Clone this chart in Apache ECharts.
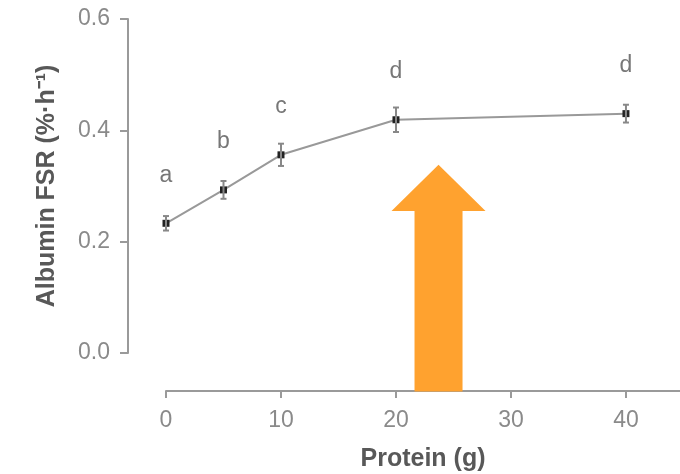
<!DOCTYPE html>
<html>
<head>
<meta charset="utf-8">
<script src="https://cdn.jsdelivr.net/npm/echarts@6/dist/echarts.min.js"></script>
<style>html,body{margin:0;padding:0;background:#fff}#c{width:680px;height:474px}</style>
</head>
<body>
<div id="c"></div>
<script>
// Data
var protein = [0, 5, 10, 20, 40];
var fsr = [0.233, 0.293, 0.356, 0.419, 0.430];
var fsrErr = [0.013, 0.016, 0.020, 0.022, 0.016];
var letters = ['a', 'b', 'c', 'd', 'd'];
var xTicks = [0, 10, 20, 30, 40];
var yTicks = [0, 0.2, 0.4, 0.6];
// annotation arrow (in data units)
var arrowX = 23.7, arrowTip = 0.338, arrowHeadBase = 0.255, arrowBottom = -0.069;

var FONT = 'Liberation Sans, Arial, sans-serif';
var chart = echarts.init(document.getElementById('c'), null, {renderer: 'canvas'});

var pts = protein.map(function (x, i) { return [x, fsr[i]]; });
var errData = protein.map(function (x, i) { return [x, fsr[i] - fsrErr[i], fsr[i] + fsrErr[i]]; });

chart.setOption({
  animation: false,
  backgroundColor: '#fff',
  grid: {left: 166, right: 0, top: 19, bottom: 121, containLabel: false, outerBoundsMode: 'none'},
  xAxis: {
    type: 'value', min: 0, max: 44.7, interval: 10, offset: 38,
    axisLine: {show: true, onZero: false, lineStyle: {color: '#9a9a9a', width: 2}},
    axisTick: {show: true, length: 7, lineStyle: {color: '#9a9a9a', width: 2}, customValues: xTicks},
    axisLabel: {fontFamily: FONT, fontSize: 23, color: '#8a8a8a', margin: 18, customValues: xTicks},
    splitLine: {show: false},
    name: 'Protein (g)', nameLocation: 'middle', nameGap: 56,
    nameTextStyle: {fontFamily: FONT, fontSize: 25, fontWeight: 'bold', color: '#585858'}
  },
  yAxis: {
    type: 'value', min: 0, max: 0.6, interval: 0.2, offset: 38,
    axisLine: {show: true, onZero: false, lineStyle: {color: '#9a9a9a', width: 2}},
    axisTick: {show: true, length: 8, lineStyle: {color: '#9a9a9a', width: 2}},
    axisLabel: {fontFamily: FONT, fontSize: 23, color: '#8a8a8a', margin: 18,
      formatter: function (v) { return v.toFixed(1); }},
    splitLine: {show: false},
    name: 'Albumin FSR (%·h⁻¹)', nameLocation: 'middle', nameGap: 68,
    nameTextStyle: {fontFamily: FONT, fontSize: 25, fontWeight: 'bold', color: '#585858'}
  },
  series: [
    {
      type: 'line', data: pts, z: 2,
      lineStyle: {color: '#999', width: 2},
      symbol: 'rect', symbolSize: 7,
      itemStyle: {color: '#222'},
      label: {show: true, position: 'top', distance: 33,
        fontFamily: FONT, fontSize: 23, color: '#777',
        formatter: function (p) { return letters[p.dataIndex]; }}
    },
    {
      type: 'custom', data: errData, z: 3,
      renderItem: function (params, api) {
        var x = api.value(0);
        var lo = api.coord([x, api.value(1)]);
        var hi = api.coord([x, api.value(2)]);
        var st = {stroke: '#888', lineWidth: 2};
        return {type: 'group', children: [
          {type: 'line', shape: {x1: lo[0], y1: lo[1], x2: hi[0], y2: hi[1]}, style: st},
          {type: 'line', shape: {x1: lo[0] - 3, y1: lo[1], x2: lo[0] + 3, y2: lo[1]}, style: st},
          {type: 'line', shape: {x1: hi[0] - 3, y1: hi[1], x2: hi[0] + 3, y2: hi[1]}, style: st}
        ]};
      }
    },
    {
      type: 'custom', data: [[arrowX, arrowTip, arrowHeadBase, arrowBottom]], z: 10, clip: false,
      renderItem: function (params, api) {
        var x = api.value(0);
        var tip = api.coord([x, api.value(1)]);
        var hb = api.coord([x, api.value(2)]);
        var bt = api.coord([x, api.value(3)]);
        var hw = 47, sw = 24;
        return {type: 'polygon', shape: {points: [
          [tip[0], tip[1]], [tip[0] + hw, hb[1]], [tip[0] + sw, hb[1]], [tip[0] + sw, bt[1]],
          [tip[0] - sw, bt[1]], [tip[0] - sw, hb[1]], [tip[0] - hw, hb[1]]
        ]}, style: {fill: '#FFA22F'}};
      }
    }
  ]
});
</script>
</body>
</html>
